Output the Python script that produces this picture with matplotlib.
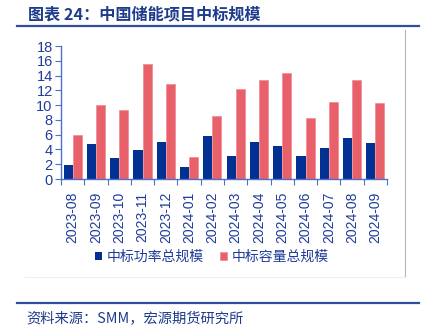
import matplotlib.pyplot as plt
import numpy as np
from matplotlib.lines import Line2D

plt.rcParams['font.family'] = ['Liberation Sans', 'Noto Sans CJK SC', 'DejaVu Sans']

months = ["2023-08", "2023-09", "2023-10", "2023-11", "2023-12", "2024-01", "2024-02",
          "2024-03", "2024-04", "2024-05", "2024-06", "2024-07", "2024-08", "2024-09"]
power = [1.9, 4.7, 2.9, 3.9, 5.0, 1.6, 5.8, 3.1, 5.0, 4.4, 3.1, 4.2, 5.5, 4.9]
capacity = [5.9, 10.0, 9.3, 15.5, 12.8, 3.0, 8.5, 12.2, 13.4, 14.3, 8.2, 10.4, 13.4, 10.3]
series_names = ["中标功率总规模", "中标容量总规模"]

blue = "#003092"
red = "#E8606A"
axis_col = "#4A72C8"
text_col = "#1F3C9A"

fig = plt.figure(figsize=(4.24, 3.31), dpi=100)

# title and frame lines
fig.text(28 / 424, 1 - 14 / 331, "图表 24：中国储能项目中标规模", fontsize=11.6, fontweight="bold",
         color="#1F3C8C", family=["Noto Sans CJK SC", "DejaVu Sans"], va="center", ha="left")
fig.add_artist(Line2D([17 / 424, 419 / 424], [1 - 26 / 331] * 2, color="#2E4F99", lw=1.6))
fig.add_artist(Line2D([17 / 424, 419 / 424], [1 - 303 / 331] * 2, color="#2E4F99", lw=1.6))
fig.add_artist(Line2D([405 / 424] * 2, [1 - 30 / 331, 1 - 277 / 331], color="#B5B5B5", lw=0.8))
fig.add_artist(Line2D([25 / 424, 405 / 424], [1 - 277 / 331] * 2, color="#EEEEEE", lw=0.8))
fig.text(26 / 424, 1 - 318 / 331, "资料来源：SMM，宏源期货研究所", fontsize=10.3, style="italic",
         color="#1F3C8C", family=["Noto Sans CJK SC", "DejaVu Sans"], va="center", ha="left")

ax = fig.add_axes([61 / 424, 1 - 179 / 331, (387 - 61) / 424, (179 - 46) / 331])
x = np.arange(len(months))
w = 0.39
ax.bar(x - w / 2, power, width=w, color=blue, label=series_names[0])
ax.bar(x + w / 2, capacity, width=w, color=red, edgecolor="#F08890", linewidth=0.5,
       label=series_names[1])

ax.set_xlim(-0.5, len(months) - 0.5)
ax.set_ylim(0, 18)
ax.set_yticks(range(0, 19, 2))
ax.set_xticks(np.arange(-0.5, len(months), 1), minor=False)
ax.set_xticklabels([])
ax.set_xticks(x, minor=True)
ax.set_xticklabels(months, minor=True, rotation=90)
ax.tick_params(axis="x", which="minor", length=0, pad=9, labelsize=10, labelcolor=text_col)
ax.tick_params(axis="x", which="major", length=4, color=axis_col, direction="out")
ax.tick_params(axis="y", length=4, color=axis_col, labelsize=10.5, labelcolor=text_col, pad=2)
for s in ["top", "right"]:
    ax.spines[s].set_visible(False)
for s in ["left", "bottom"]:
    ax.spines[s].set_color(axis_col)
    ax.spines[s].set_linewidth(1.0)

fig.legend(loc="center", bbox_to_anchor=(212 / 424, 1 - 257 / 331), ncol=2, frameon=False,
           prop={"family": ["Noto Sans CJK SC", "DejaVu Sans"], "size": 10},
           labelcolor=text_col, handlelength=0.5, handleheight=0.5, handletextpad=0.3,
           columnspacing=1.2)

fig.savefig("out.png", dpi=100)
